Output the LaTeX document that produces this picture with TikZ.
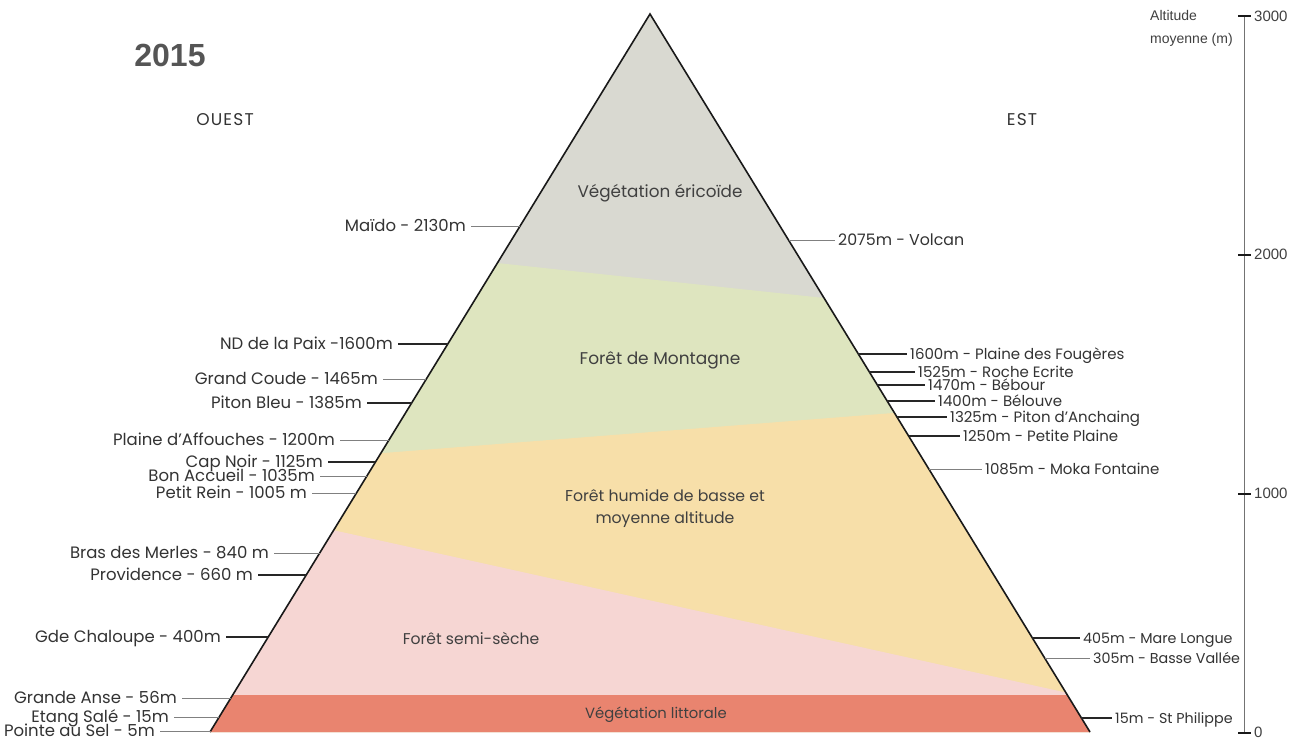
\documentclass[tikz,border=0pt]{standalone}
\usepackage{fontspec}
\setmainfont{Poppins}
\newfontfamily\arialfont{Liberation Sans}
\newfontfamily\widefont[LetterSpace=7]{Poppins}
\usetikzlibrary{calc}
\definecolor{ericoide}{HTML}{D9D9D1}
\definecolor{montagne}{HTML}{DEE5BF}
\definecolor{humide}{HTML}{F7DFA9}
\definecolor{semiseche}{HTML}{F6D6D3}
\definecolor{littorale}{HTML}{E9846F}
\definecolor{labtext}{HTML}{333333}
\definecolor{titlegrey}{HTML}{555555}
\def\lsz{16.5}
\newcommand\wlab[5]{%
  \node[lab,anchor=east] (#1) at (#3,#2) {#5};
  \pgfmathsetmacro\ex{650-0.61281*(#2-14)}
  \coordinate (#1e) at (\ex,#2);
  \draw[#4] ([xshift=5pt]#1.east) -- (#1e);
}
\newcommand\elab[5]{%
  \node[lab,anchor=west] (#1) at (#3,#2) {#5};
  \pgfmathsetmacro\ex{650+0.61281*(#2-14)}
  \coordinate (#1e) at (\ex,#2);
  \draw[#4] (#1e) -- ([xshift=-3pt]#1.west);
}
\begin{document}
\begin{tikzpicture}[x=1pt,y=-1pt,
  lab/.style={font=\fontsize{\lsz}{18}\selectfont, text=labtext, inner sep=0pt, text height=11pt, text depth=1pt},
  zone/.style={text=black!75, align=center, inner sep=0pt},
  darkline/.style={draw=black!85, line width=1.4pt},
  greyline/.style={draw=black!50, line width=0.9pt},
  axisline/.style={draw=black!55, line width=1.5pt},
  tickline/.style={draw=black!90, line width=2pt},
  axlab/.style={font=\arialfont\fontsize{15}{17}\selectfont, text=black!75, anchor=west, inner sep=0pt},
]
\useasboundingbox (0,0) rectangle (1308,742);
\fill[white] (0,0) rectangle (1308,742);

\coordinate (apex) at (650,14);
\coordinate (bl) at (210,732);
\coordinate (br) at (1090,732);

\begin{scope}
  \clip (apex) -- (bl) -- (br) -- cycle;
  \fill[ericoide] (200,0) rectangle (1100,742);
  \fill[montagne] (200,231.2) -- (1100,327.5) -- (1100,742) -- (200,742) -- cycle;
  \fill[humide] (200,467.4) -- (1100,396.8) -- (1100,742) -- (200,742) -- cycle;
  \fill[semiseche] (200,500.6) -- (1100,700.1) -- (1100,742) -- (200,742) -- cycle;
  \fill[littorale] (200,695) rectangle (1100,742);
\end{scope}
\draw[line width=1.6pt, draw=black!90] (bl) -- (apex) -- (br);

% zone labels
\node[zone, font=\fontsize{16.8}{22}\selectfont] (z1) at (660,193) {Végétation éricoïde};
\node[zone, font=\fontsize{17}{22}\selectfont] (z2) at (660,360) {Forêt de Montagne};
\node[zone, font=\fontsize{15.7}{22}\selectfont] (z3) at (665,509) {Forêt humide de basse et\\moyenne altitude};
\node[zone, font=\fontsize{15.6}{22}\selectfont] (z4) at (471,638) {Forêt semi-sèche};
\node[zone, font=\fontsize{14.8}{22}\selectfont] (z5) at (656,715) {Végétation littorale};

% titles
\node[font=\arialfont\bfseries\fontsize{32}{36}\selectfont, text=titlegrey, inner sep=0pt] (year) at (170,55) {2015};
\node[font=\widefont\fontsize{17}{20}\selectfont, text=labtext, inner sep=0pt] (ouest) at (225,120) {OUEST};
\node[font=\widefont\fontsize{17}{20}\selectfont, text=labtext, inner sep=0pt] (est) at (1022,120) {EST};

% west labels
\def\lsz{16.5}
\wlab{maido}{226}{466}{greyline}{Maïdo - 2130m}
\wlab{ndpaix}{344}{393}{darkline}{ND de la Paix -1600m}
\wlab{grandcoude}{379}{378}{greyline}{Grand Coude - 1465m}
\wlab{pitonbleu}{403}{362}{darkline}{Piton Bleu - 1385m}
\wlab{affouches}{440}{335}{greyline}{Plaine d’Affouches - 1200m}
\wlab{capnoir}{462}{323}{darkline}{Cap Noir - 1125m}
\wlab{bonaccueil}{476}{315}{greyline}{Bon Accueil - 1035m}
\wlab{petitrein}{493}{307}{greyline}{Petit Rein - 1005 m}
\wlab{merles}{553}{269}{greyline}{Bras des Merles - 840 m}
\wlab{providence}{575}{253}{darkline}{Providence - 660 m}
\wlab{chaloupe}{637}{221}{darkline}{Gde Chaloupe - 400m}
\wlab{grandeanse}{698}{177}{greyline}{Grande Anse - 56m}
\wlab{etangsale}{717}{169}{greyline}{Etang Salé - 15m}
\wlab{pointesel}{731}{155}{greyline}{Pointe au Sel - 5m}

% east labels
\def\lsz{15.8}
\elab{volcan}{240}{838}{greyline}{2075m - Volcan}
\def\lsz{15}
\elab{fougeres}{354}{910}{darkline}{1600m - Plaine des Fougères}
\elab{roche}{372}{918}{darkline}{1525m - Roche Ecrite}
\elab{bebour}{385}{928}{darkline}{1470m - Bébour}
\elab{belouve}{401}{938}{darkline}{1400m - Bélouve}
\elab{anchaing}{417}{950}{darkline}{1325m - Piton d’Anchaing}
\elab{petiteplaine}{436}{963}{darkline}{1250m - Petite Plaine}
\elab{moka}{469}{985}{greyline}{1085m - Moka Fontaine}
\def\lsz{14.3}
\elab{marelongue}{638}{1083}{darkline}{405m - Mare Longue}
\elab{bassevallee}{658}{1093}{greyline}{305m - Basse Vallée}
\elab{stphilippe}{718}{1115}{darkline}{15m - St Philippe}

% altitude axis
\coordinate (ax0) at (1244.5,732.5);
\coordinate (ax3) at (1244.5,16);
\draw[axisline] (ax0) -- (ax3);
\foreach \v/\yy in {0/732.5,1000/493.7,2000/254.8,3000/16}{
  \draw[tickline] (1238,\yy) -- (1251,\yy);
  \node[axlab] (t\v) at (1254,\yy) {\v};
}
\node[font=\arialfont\fontsize{14}{23}\selectfont, text=black!75, align=left, anchor=north west, inner sep=0pt] (alt) at (1150,10) {Altitude\\moyenne (m)};
\end{tikzpicture}
\end{document}
